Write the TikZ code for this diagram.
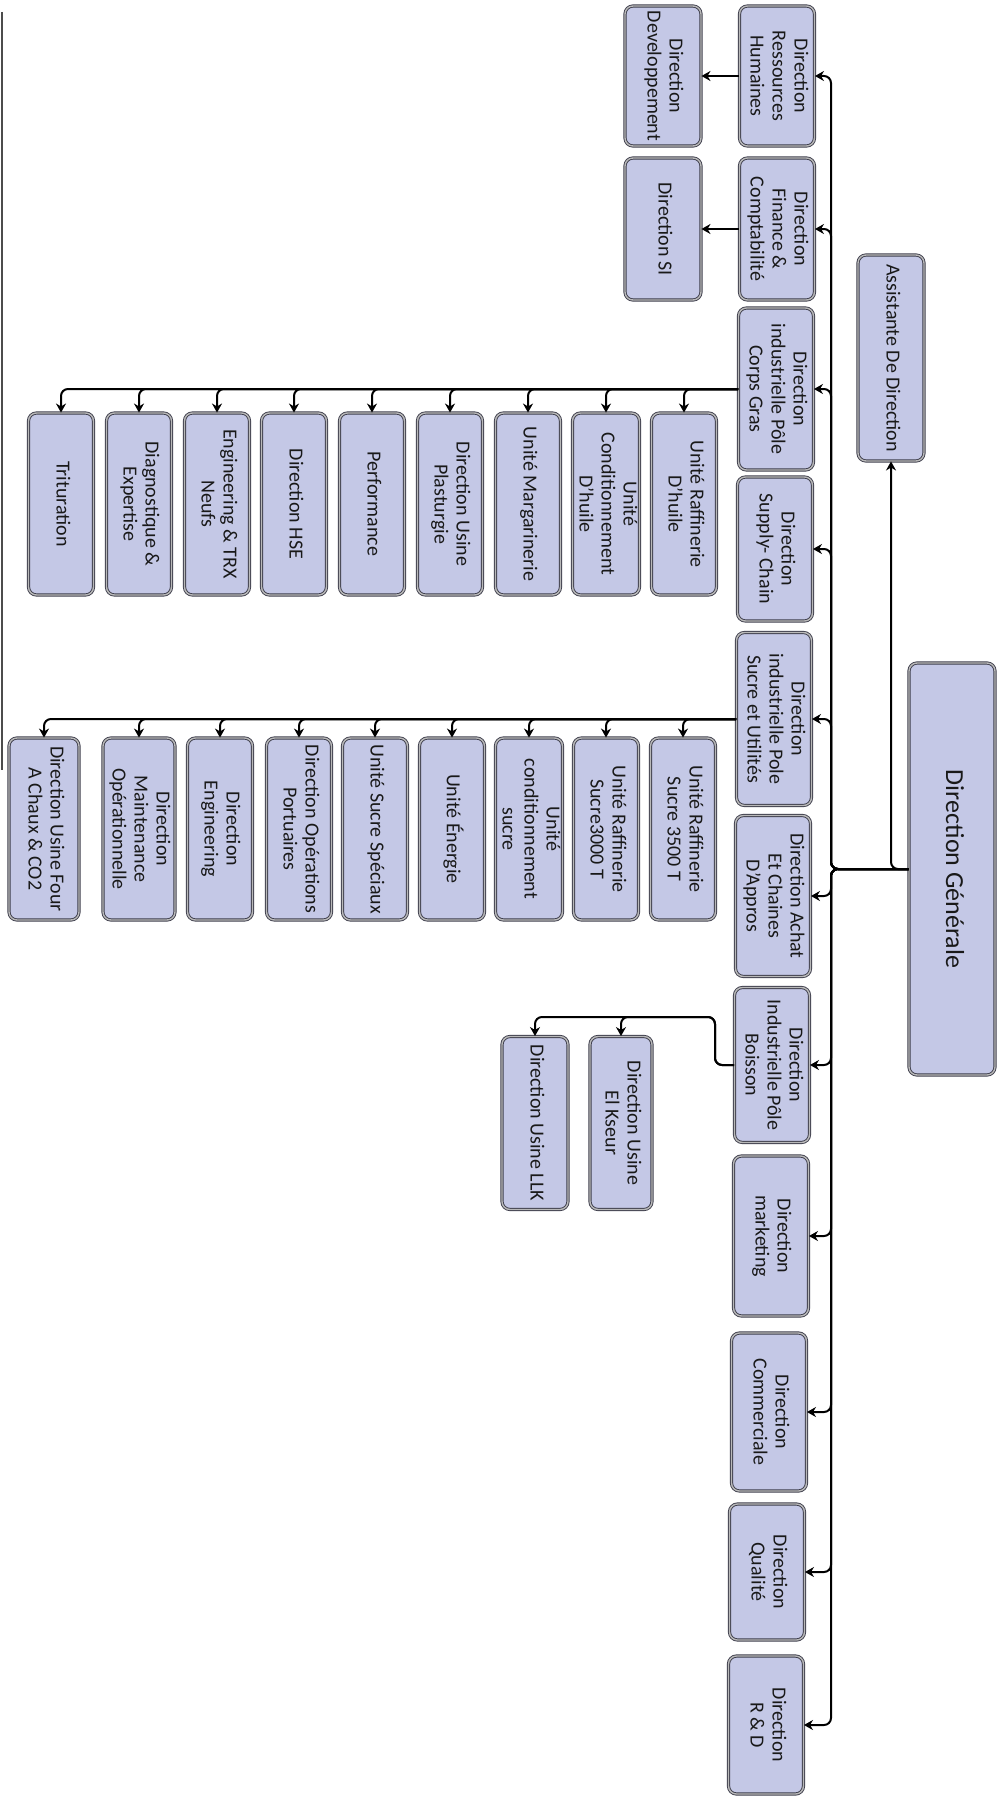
\documentclass[tikz,border=0pt]{standalone}
\usepackage{fontspec}
\setmainfont{Carlito}
\usepackage{graphicx}
\usetikzlibrary{arrows.meta}

\definecolor{boxfill}{RGB}{196,200,230}
\definecolor{boxline}{RGB}{62,62,76}

\newcommand{\vlab}[1]{\rotatebox{-90}{\begin{tabular}{@{}c@{}}#1\end{tabular}}}

\tikzset{
	box/.style={draw=boxline, line width=0.9pt, double=gray!55, double distance=1.4pt,
		fill=boxfill, rounded corners=8pt, inner sep=0.5pt, text=black!90,
		font=\fontsize{20}{22}\selectfont},
	dir/.style={box, minimum width=75pt},
	sub/.style={box, minimum width=65pt, minimum height=182pt},
	conn/.style={line width=2pt, rounded corners=7pt, -{Stealth[length=9pt,width=10pt]}}
}

\begin{document}
\begin{tikzpicture}[x=1pt, y=-1pt]

	\useasboundingbox (0,0) rectangle (1001,1798);
	\draw[black!70, line width=1.2pt] (2,12) -- (2,770);

	% top
	\node[box, minimum width=86pt, minimum height=412pt, font=\fontsize{26}{30}\selectfont] (dg) at (952,869) {\vlab{Direction Générale}};
	\node[box, minimum width=66pt, minimum height=206pt] (asst) at (891,358) {\vlab{Assistante De Direction}};
	\coordinate (spine) at (831,869);

	% directions
	\node[dir, minimum height=140pt] (rh) at (777,76) {\vlab{Direction\\Ressources\\Humaines}};
	\node[dir, minimum height=142pt] (fin) at (777,229) {\vlab{Direction\\Finance \&\\Comptabilité}};
	\node[dir, minimum height=162pt] (cg) at (776,389) {\vlab{Direction\\industrielle Pôle\\Corps Gras}};
	\node[dir, minimum height=144pt] (sc) at (775,549) {\vlab{Direction\\Supply- Chain}};
	\node[dir, minimum height=173pt] (su) at (774,719) {\vlab{Direction\\industrielle  Pole\\Sucre et Utilités}};
	\node[dir, minimum height=161pt] (ach) at (773,896) {\vlab{Direction Achat\\Et Chaines\\D'Appros}};
	\node[dir, minimum height=155pt] (bs) at (772,1065) {\vlab{Direction\\Industrielle Pôle\\Boisson}};
	\node[dir, minimum height=160pt] (mk) at (771,1236) {\vlab{Direction\\marketing}};
	\node[dir, minimum height=158pt] (cm) at (769,1412) {\vlab{Direction\\Commerciale}};
	\node[dir, minimum height=136pt] (ql) at (767,1572) {\vlab{Direction\\Qualité}};
	\node[dir, minimum height=138pt] (rd) at (766,1725) {\vlab{Direction\\R \& D}};

	\node[dir, minimum width=76pt, minimum height=140pt] (dev) at (663,76) {\vlab{Direction\\Developpement}};
	\node[dir, minimum width=76pt, minimum height=142pt] (si) at (663,229) {\vlab{Direction SI}};

	% corps gras
	\node[sub] (cg1) at (684,504) {\vlab{Unité Raffinerie\\D'huile}};
	\node[sub] (cg2) at (606,504) {\vlab{Unité\\Conditionnement\\D'huile}};
	\node[sub] (cg3) at (528,504) {\vlab{Unité Margarinerie}};
	\node[sub] (cg4) at (450,504) {\vlab{Direction  Usine\\Plasturgie}};
	\node[sub] (cg5) at (372,504) {\vlab{Performance}};
	\node[sub] (cg6) at (294,504) {\vlab{Direction  HSE}};
	\node[sub] (cg7) at (217,504) {\vlab{Engineering \& TRX\\Neufs}};
	\node[sub] (cg8) at (139,504) {\vlab{Diagnostique \&\\Expertise}};
	\node[sub] (cg9) at (61,504) {\vlab{Trituration}};

	% sucre
	\node[sub] (su1) at (683,829) {\vlab{Unité Raffinerie\\Sucre 3500 T}};
	\node[sub] (su2) at (606,829) {\vlab{Unité Raffinerie\\Sucre3000 T}};
	\node[sub] (su3) at (529,829) {\vlab{Unité\\conditionnement\\sucre}};
	\node[sub] (su4) at (452,829) {\vlab{Unité Énergie}};
	\node[sub] (su5) at (375,829) {\vlab{Unité Sucre Spéciaux}};
	\node[sub] (su6) at (299,829) {\vlab{Direction Opérations\\Portuaires}};
	\node[sub] (su7) at (220,829) {\vlab{Direction\\Engineering}};
	\node[sub, minimum width=72pt] (su8) at (139,829) {\vlab{Direction\\Maintenance\\Opérationnelle}};
	\node[sub, minimum width=70pt] (su9) at (44,829) {\vlab{Direction Usine Four\\A Chaux \& CO2}};

	% boisson
	\node[sub, minimum width=62pt, minimum height=173pt] (bs1) at (621,1123) {\vlab{Direction Usine\\El Kseur}};
	\node[sub, minimum width=66pt, minimum height=173pt] (bs2) at (535,1123) {\vlab{Direction Usine LLK}};
	\coordinate (bsj) at (715,1017);

	% links
	\draw[conn] (dg.west) -| (asst.south);
	\foreach \d in {rh,fin,cg,sc,su,ach,bs,mk,cm,ql,rd}
		\draw[conn] (dg.west) -| (spine |- \d.east) -- (\d.east);

	\draw[conn] (rh.west) -- (dev.east);
	\draw[conn] (fin.west) -- (si.east);

	\foreach \i in {1,...,9}
		{
			\draw[conn] (cg.west) -| (cg\i.north);
			\draw[conn] (su.west) -| (su\i.north);
		}

	\draw[conn] (bs.west) -| (bsj) -| (bs1.north);
	\draw[conn] (bs.west) -| (bsj) -| (bs2.north);

\end{tikzpicture}
\end{document}
